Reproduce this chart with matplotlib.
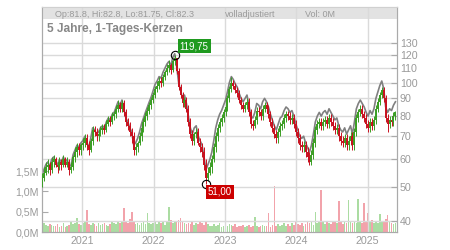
import matplotlib
matplotlib.use('Agg')
import matplotlib.pyplot as plt
import numpy as np
import pandas as pd
from matplotlib.ticker import FixedLocator, NullLocator
from matplotlib.patches import Rectangle

plt.rcParams['font.family'] = ['Liberation Sans', 'DejaVu Sans']

# ---------------- data ----------------
start_date = '2020-06-08'
n_points = 182
first_open = 52

closes = [
    53, 55, 57, 58, 56, 59, 60, 58, 57, 59, 58, 60, 58, 59,
    56, 57, 61, 63, 65, 64, 66, 67, 69, 66, 64, 68, 73, 72,
    70, 71, 73, 74, 73, 76, 78, 77, 80, 81, 84, 86, 84, 87,
    82, 77, 75, 72, 70, 64, 65, 67, 70, 74, 77, 80, 83, 86,
    89, 92, 96, 98, 101, 100, 104, 107, 110, 112, 109, 115, 118, 108,
    97, 92, 87, 89, 84, 77, 71, 68, 71, 72, 67, 65, 63, 58,
    53, 55, 57, 60, 65, 70, 74, 77, 79, 82, 85, 90, 96, 100,
    98, 95, 93, 89, 86, 84, 86, 88, 82, 76, 75, 78, 83, 82,
    80, 84, 86, 84, 81, 77, 74, 71, 69, 72, 75, 76, 79, 81,
    80, 78, 79, 76, 72, 69, 66, 65, 66, 63, 61, 59, 62, 67,
    73, 76, 77, 75, 77, 78, 76, 79, 77, 75, 73, 74, 70, 68,
    67, 69, 66, 68, 70, 66, 72, 79, 82, 84, 81, 79, 76, 74,
    77, 75, 78, 84, 88, 92, 95, 90, 79, 76, 78, 77, 80, 82.3,
]

highs = [
    55, 57, 59, 60, 59, 61, 62, 61, 59, 61, 60, 62, 61, 61,
    60, 59, 62, 65, 67, 67, 67, 69, 71, 71, 68, 69, 75, 75,
    74, 73, 75, 76, 76, 78, 80, 80, 82, 83, 86, 89, 88, 89,
    89, 84, 79, 77, 74, 72, 67, 68, 72, 76, 79, 82, 85, 88,
    91, 94, 98, 101, 104, 104, 106, 109, 113, 116, 114, 117, 119.75, 118,
    110, 99, 94, 91, 91, 86, 79, 73, 72, 74, 74, 69, 67, 65,
    60, 57, 59, 62, 67, 72, 76, 79, 81, 84, 87, 92, 98, 104,
    102, 100, 97, 95, 91, 88, 88, 90, 90, 84, 78, 80, 85, 85,
    84, 86, 88, 88, 86, 83, 79, 76, 73, 74, 77, 78, 81, 83,
    83, 82, 81, 81, 78, 74, 71, 68, 68, 68, 65, 63, 64, 69,
    75, 78, 79, 79, 79, 80, 80, 81, 81, 79, 77, 76, 76, 72,
    70, 71, 71, 70, 72, 72, 74, 81, 84, 86, 86, 83, 81, 78,
    79, 79, 80, 86, 90, 94, 97, 97, 92, 81, 80, 80, 82, 82.8,
]

lows = [
    50, 52, 54, 55, 54, 55, 57, 57, 55, 56, 56, 57, 57, 57,
    54, 55, 56, 59, 61, 62, 62, 64, 65, 64, 62, 63, 66, 70,
    68, 68, 70, 71, 71, 72, 75, 75, 76, 78, 79, 82, 82, 82,
    80, 75, 73, 70, 67, 62, 62, 63, 66, 68, 72, 75, 78, 81,
    84, 87, 90, 94, 96, 97, 98, 102, 105, 107, 106, 107, 112, 106,
    95, 90, 85, 85, 82, 75, 69, 66, 66, 69, 66, 63, 61, 56,
    51, 52, 54, 55, 59, 63, 68, 72, 75, 77, 80, 83, 88, 94,
    96, 93, 91, 87, 84, 82, 82, 84, 80, 74, 73, 74, 76, 80,
    78, 78, 82, 82, 79, 75, 72, 69, 67, 67, 70, 73, 74, 77,
    78, 76, 76, 74, 70, 67, 64, 63, 63, 61, 59, 58, 58, 60,
    65, 71, 74, 73, 73, 75, 74, 74, 75, 73, 71, 71, 68, 66,
    65, 65, 64, 64, 66, 64, 64, 70, 77, 80, 79, 77, 74, 72,
    72, 73, 73, 76, 82, 86, 90, 88, 77, 72, 74, 75, 75, 78,
]

adjusted = [
    54, 56, 58, 59, 57, 60, 61, 59, 58, 60, 59, 61, 59, 60,
    57, 58, 62, 64, 66, 65, 67, 68, 70, 67, 65, 69, 74, 73,
    71, 72, 74, 75, 74, 77, 79, 78, 81, 82, 85, 88, 86, 89,
    84, 79, 77, 74, 72, 66, 67, 69, 72, 76, 79, 82, 85, 88,
    91, 95, 99, 101, 104, 103, 107, 110, 113, 115, 112, 118, 121, 111,
    100, 95, 90, 92, 87, 80, 74, 71, 74, 75, 70, 68, 66, 61,
    56, 58, 60, 63, 68, 74, 78, 81, 83, 86, 89, 94, 100, 104,
    102, 99, 97, 93, 90, 88, 90, 92, 86, 80, 79, 82, 87, 86,
    84, 88, 90, 88, 85, 81, 78, 75, 73, 76, 79, 80, 83, 85,
    84, 82, 83, 80, 76, 73, 70, 69, 70, 67, 65, 63, 66, 71,
    77, 80, 82, 80, 82, 83, 81, 84, 82, 80, 78, 79, 75, 73,
    72, 74, 71, 73, 75, 71, 77, 84, 87, 89, 87, 85, 82, 80,
    83, 81, 84, 90, 94, 98, 101, 96, 85, 82, 84, 83, 86, 88,
]

volume_m = [
    .25, .22, .18, .15, .20, .17, .14, .16, .19, .13, .15, .21, .12, .16,
    .18, .24, .20, .22, .35, .19, .17, .23, .26, .54, .20, .18, .22, .19,
    .16, .21, .17, .19, .23, .18, .15, .20, .26, .22, .19, .24, .21, .28,
    .59, .25, .22, .31, .49, .24, .20, .22, .18, .21, .26, .19, .47, .23,
    .20, .22, .25, .19, .28, .21, .24, .18, .26, .62, .30, .22, .27, .25,
    .29, .35, .24, .21, .19, .23, .20, .26, .17, .22, .19, .24, .21, .18,
    .25, .20, .16, .14, .19, .15, .17, .21, .13, .16, .18, .14, .20, .17,
    .15, .19, .13, .16, .14, .18, .12, .15, .17, .13, .16, .37, .14, .12,
    .15, .18, .14, .16, .47, .13, .17, 1.13, .15, .19, .14, .17, .21, .16,
    .19, .15, .22, .17, .25, .20, .18, .23, .16, .19, .26, .21, .24, .18,
    .49, .22, .27, 1.03, .24, .20, .26, .22, .19, .25, .28, .21, .76, .24,
    .20, .26, .22, .79, .25, .21, .28, .23, .81, .27, .22, .71, .26, .47,
    .24, .29, .21, .26, .23, .44, .27, .24, .31, .42, .25, .22, .19, .21,
]

peak_index, peak_value, peak_label = 68, 119.75, '119,75'
low_index, low_value, low_label = 84, 51.00, '51,00'

price_ticks = [40, 50, 60, 70, 80, 90, 100, 110, 120, 130]
volume_ticks = [0, 0.5, 1.0, 1.5]
volume_tick_labels = ['0,0M', '0,5M', '1,0M', '1,5M']
years = [2021, 2022, 2023, 2024, 2025]
title = '5 Jahre, 1-Tages-Kerzen'
legend_ohlc = 'Op:81.8, Hi:82.8, Lo:81.75, Cl:82.3'
legend_adj = 'volladjustiert'
legend_vol = 'Vol: 0M'

# ---------------- styling ----------------
W, H = 450, 250
GREEN = '#3a9d23'
RED = '#c8101e'
VGREEN = '#abdca2'
VRED = '#f2a3ab'
GRID = '#dadada'
TXT = '#9a9a9a'

dates = pd.date_range(start_date, periods=n_points, freq='10D')
opens = [first_open] + closes[:-1]

fig = plt.figure(figsize=(W / 100, H / 100), dpi=100)
L, R, T, B = 41.5, 397, 7, 232
ax = fig.add_axes([L / W, 1 - B / H, (R - L) / W, (B - T) / H])
ax2 = ax.twinx()

xmin, xmax = pd.Timestamp('2020-06-06'), pd.Timestamp('2025-05-31')
ax.set_xlim(xmin, xmax)
ax.set_ylim(0, 5.54)
ax2.set_yscale('log')
ax2.set_ylim(37.06, 165.1)

# volume
vcolors = [VGREEN if c >= o else VRED for o, c in zip(opens, closes)]
ax.bar(dates, volume_m, width=pd.Timedelta(days=8.5), color=vcolors, linewidth=0, zorder=2)

# grid + legend band on price axes
for y in years:
    ax2.axvline(pd.Timestamp(f'{y}-01-01'), color=GRID, lw=1.0, zorder=0.5)
for p in price_ticks:
    ax2.axhline(p, color=GRID, lw=1.0, zorder=0.5)
ax2.add_patch(Rectangle((0, 1 - 12 / (B - T)), 1, 12 / (B - T), transform=ax2.transAxes,
                        facecolor='#e2e2e2', edgecolor='none', zorder=0.3))

# adjusted line
ax2.plot(dates, adjusted, color='#808080', lw=1.2, zorder=2)

# candles
body_lo = [min(o, c) for o, c in zip(opens, closes)]
body_hi = [max(o, c) for o, c in zip(opens, closes)]
ccol = [GREEN if c >= o else RED for o, c in zip(opens, closes)]
ax2.vlines(dates, lows, highs, colors=ccol, lw=0.7, zorder=3)
ax2.vlines(dates, body_lo, body_hi, colors=ccol, lw=1.4, zorder=3)

# extremes
ax2.plot([dates[peak_index]], [peak_value], marker='o', ms=6, mfc='none', mec='black', mew=0.8, zorder=4)
ax2.plot([dates[low_index]], [low_value], marker='o', ms=6, mfc='none', mec='black', mew=0.8, zorder=4)
ax2.annotate(peak_label, xy=(dates[peak_index], peak_value), xytext=(5, 9), textcoords='offset pixels',
             ha='left', va='center', color='white', fontsize=7,
             bbox=dict(boxstyle='square,pad=0.2', fc='#1f9a1f', ec='none'), zorder=5)
ax2.annotate(low_label, xy=(dates[low_index], low_value), xytext=(2, -8), textcoords='offset pixels',
             ha='left', va='center', color='white', fontsize=7,
             bbox=dict(boxstyle='square,pad=0.2', fc='#cc0000', ec='none'), zorder=5)

# axes styling
for a in (ax, ax2):
    for s in ('left', 'right', 'bottom'):
        a.spines[s].set_color('#aaaaaa')
    a.spines['top'].set_color('#d0d0d0')

ax.set_yticks(volume_ticks)
ax.set_yticklabels(volume_tick_labels)
ax.tick_params(axis='y', direction='in', length=4, color='#aaaaaa', labelcolor=TXT, labelsize=7.7, pad=2)
ax.set_xticks([pd.Timestamp(f'{y}-01-01') for y in years])
ax.set_xticklabels([str(y) for y in years])
ax.tick_params(axis='x', direction='in', length=3, color='#aaaaaa', labelcolor=TXT, labelsize=7.7, pad=3)

ax2.yaxis.set_major_locator(FixedLocator(price_ticks))
ax2.yaxis.set_minor_locator(NullLocator())
ax2.set_yticklabels([str(p) for p in price_ticks])
ax2.tick_params(axis='y', which='both', direction='in', length=4, color='#aaaaaa', labelcolor=TXT,
                labelsize=7.7, pad=2)

ax.set_zorder(1)
ax2.set_zorder(2)
ax2.patch.set_visible(False)

# title and legend
fig.text(47 / W, 1 - 29 / H, title, fontsize=8.6, fontweight='bold', color='#878787', va='center')

def square(x, y, fc, ec):
    fig.add_artist(Rectangle((x / W, 1 - (y + 5.5) / H), 5.5 / W, 5.5 / H, transform=fig.transFigure,
                             facecolor=fc, edgecolor=ec, lw=0.7))

square(47, 11.5, '#2fa02a', '#555555')
fig.text(55 / W, 1 - 14.5 / H, legend_ohlc, fontsize=6.5, color=TXT, va='center')
square(217, 11.5, '#555555', '#111111')
fig.text(225 / W, 1 - 14.5 / H, legend_adj, fontsize=6.5, color=TXT, va='center')
square(297, 11.5, '#b2e0aa', '#333333')
fig.text(305 / W, 1 - 14.5 / H, legend_vol, fontsize=6.5, color=TXT, va='center')

fig.savefig('out.png', dpi=100)
